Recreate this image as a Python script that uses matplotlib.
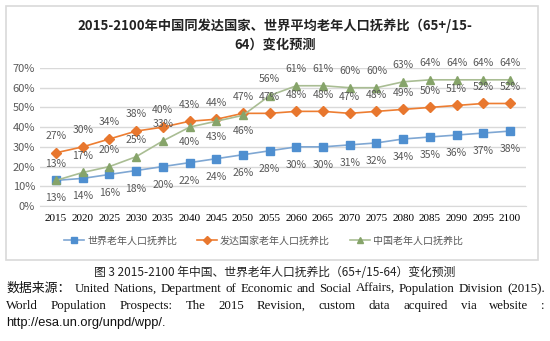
import matplotlib.pyplot as plt
import matplotlib.patches as mpatches
from matplotlib.ticker import FuncFormatter

plt.rcParams['font.family'] = ['Noto Sans CJK SC', 'DejaVu Sans']

years = [2015, 2020, 2025, 2030, 2035, 2040, 2045, 2050, 2055,
         2060, 2065, 2070, 2075, 2080, 2085, 2090, 2095, 2100]
world = [13, 14, 16, 18, 20, 22, 24, 26, 28, 30, 30, 31, 32, 34, 35, 36, 37, 38]
developed = [27, 30, 34, 38, 40, 43, 44, 47, 47, 48, 48, 47, 48, 49, 50, 51, 52, 52]
china = [13, 17, 20, 25, 33, 40, 43, 46, 56, 61, 61, 60, 60, 63, 64, 64, 64, 64]
# which Chinese labels sit under the marker
china_below = [2040, 2045, 2050]

names = ['世界老年人口抚养比', '发达国家老年人口抚养比', '中国老年人口抚养比']
title = '2015-2100年中国同发达国家、世界平均老年人口抚养比（65+/15-\n64）变化预测'
caption = '图 3 2015-2100 年中国、世界老年人口抚养比（65+/15-64）变化预测'
source1 = '数据来源： United Nations, Department of Economic and Social Affairs, Population Division (2015).'
source2 = 'World Population Prospects: The 2015 Revision, custom data acquired via website :'
source3 = 'http://esa.un.org/unpd/wpp/.'

fig = plt.figure(figsize=(5.5, 3.41), dpi=100)
fig.patch.set_facecolor('white')

# chart frame
fig.patches.append(mpatches.Rectangle((6 / 550, 1 - 260 / 341), 532 / 550, 254 / 341,
                                      transform=fig.transFigure, fill=False,
                                      edgecolor='#d9d9d9', lw=1.2))

ax = fig.add_axes([40 / 550, 1 - 206 / 341, 486 / 550, 138 / 341])
x = list(range(len(years)))

ax.plot(x, world, color='#7FA7D3', lw=1.2, marker='s', ms=6,
        mfc='#4F8FD0', mec='#4F8FD0', label=names[0])
ax.plot(x, developed, color='#ED7D31', lw=1.2, marker='D', ms=5,
        mfc='#E8772E', mec='#E8772E', label=names[1])
ax.plot(x, china, color='#A9BD93', lw=1.2, marker='^', ms=6,
        mfc='#86A46A', mec='#86A46A', label=names[2])

lab = dict(fontsize=7.5, color='#595959', ha='center')
for i, yr in enumerate(years):
    ax.annotate('%d%%' % world[i], (i, world[i]), xytext=(0, -13), textcoords='offset points', va='center', **lab)
    ax.annotate('%d%%' % developed[i], (i, developed[i]), xytext=(0, 12), textcoords='offset points', va='center', **lab)
    off = -11 if yr in china_below else 12
    ax.annotate('%d%%' % china[i], (i, china[i]), xytext=(0, off), textcoords='offset points', va='center', **lab)

ax.set_ylim(0, 70)
ax.set_yticks(range(0, 71, 10))
ax.yaxis.set_major_formatter(FuncFormatter(lambda v, p: '%d%%' % v))
ax.set_xlim(-0.6, len(years) - 0.4)
ax.set_xticks(x)
ax.set_xticklabels([str(y) for y in years], family=['Liberation Serif'], fontsize=8.5)
ax.grid(axis='y', color='#d9d9d9', lw=1)
ax.set_axisbelow(True)
for s in ['top', 'right', 'left']:
    ax.spines[s].set_visible(False)
ax.spines['bottom'].set_color('#d9d9d9')
ax.tick_params(length=0, labelsize=8, colors='#595959')
ax.tick_params(axis='x', colors='black', pad=6)

ax.legend(loc='upper center', bbox_to_anchor=(0.46, -0.15), ncol=3, frameon=False,
          fontsize=7.2, labelcolor='#595959', handlelength=2.0, columnspacing=2.0,
          handletextpad=0.3, markerscale=0.75)

fig.text(0.5, 1 - 35 / 341, title, ha='center', va='center', fontsize=9.5,
         fontweight='bold', color='#222222', linespacing=1.35)
fig.text(0.5, 1 - 272 / 341, caption, ha='center', va='center', fontsize=8.5,
         color='#222222')

# source note, justified across the page like the original
left, right = 6, 545
serif = ['Liberation Serif', 'Noto Sans CJK SC']
fig.canvas.draw()
renderer = fig.canvas.get_renderer()
for line, ypix, fam in [(source1, 289, serif), (source2, 306, serif)]:
    words = line.split(' ')
    texts = [fig.text(0, 1 - ypix / 341, w, ha='left', va='center', fontsize=9.3,
                      family=fam, color='#111111') for w in words]
    widths = [t.get_window_extent(renderer).width for t in texts]
    gap = (right - left - sum(widths)) / (len(words) - 1)
    pos = left
    for t, w in zip(texts, widths):
        t.set_x(pos / 550)
        pos += w + gap
fig.text(left / 550, 1 - 323 / 341, source3, ha='left', va='center',
         fontsize=9.3, family=['Liberation Sans'], color='#111111')

plt.savefig('out.png', dpi=100)
